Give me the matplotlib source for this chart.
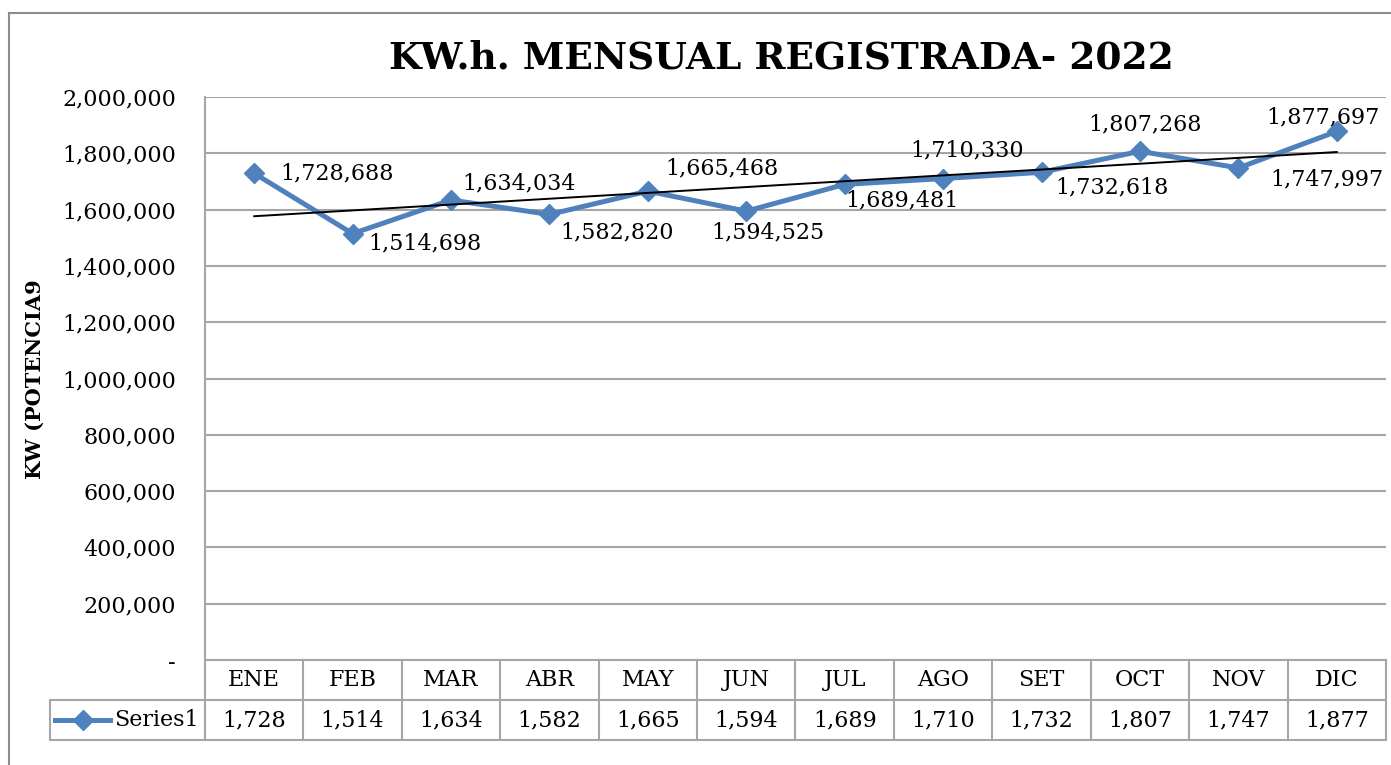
import matplotlib
matplotlib.use("Agg")
import matplotlib.pyplot as plt
from matplotlib.lines import Line2D
import matplotlib.transforms as mtransforms
import numpy as np

# monthly kWh registered, 2022
months = ["ENE", "FEB", "MAR", "ABR", "MAY", "JUN", "JUL", "AGO", "SET", "OCT", "NOV", "DIC"]
kwh = [1728688, 1514698, 1634034, 1582820, 1665468, 1594525,
       1689481, 1710330, 1732618, 1807268, 1747997, 1877697]
series_name = "Series1"
title = "KW.h. MENSUAL REGISTRADA- 2022"
ylabel = "KW (POTENCIA9"

# label offsets in pixels (dx, dy), left aligned, centered vertically
lbl_off = [(26, 0), (16, -10), (11, 17), (11, -18), (17, 23), (-35, -21),
           (1, -16), (-33, 28), (14, -15), (-52, 27), (32, -11), (-70, 14)]

plt.rcParams['font.family'] = ['DejaVu Serif']
W, H = 1391, 765
fig = plt.figure(figsize=(W/100, H/100), dpi=100)
ax = fig.add_axes([205/W, 1-660/H, 1181/W, 563/H])

blue = '#4f81bd'
grid_c = '#a6a6a6'
fs = 16

x = np.arange(len(months))
ax.plot(x, kwh, color=blue, lw=3.6, marker='D', ms=10, zorder=3)

# linear trendline
p = np.polyfit(x, kwh, 1)
ax.plot(x, np.polyval(p, x), color='black', lw=1.4, zorder=4)

for i, v in enumerate(kwh):
    ax.annotate(f"{v:,}", (i, v), xytext=lbl_off[i], textcoords='offset pixels',
                ha='left', va='center', fontsize=fs, zorder=5)

ax.set_xlim(-0.5, len(months)-0.5)
ax.set_ylim(0, 2000000)
ax.set_yticks(np.arange(0, 2000001, 200000))
ax.set_yticklabels(["-" if t == 0 else f"{t:,.0f}" for t in np.arange(0, 2000001, 200000)])
ax.set_xticks([])
ax.tick_params(axis='y', length=0, pad=21, labelsize=fs)
ax.grid(axis='y', color=grid_c, lw=1.5)
for s in ['top', 'right', 'bottom']:
    ax.spines[s].set_visible(False)
ax.spines['left'].set_color(grid_c)
ax.spines['left'].set_linewidth(1.5)

# data table below the plot
rh = 40/563
trans = mtransforms.blended_transform_factory(ax.transData, ax.transAxes)
leg_left = -155/1181
tl = dict(color=grid_c, lw=1.5, clip_on=False)
ax.plot([-0.5, len(months)-0.5], [0, 0], transform=trans, **tl)
ax.plot([leg_left, 1], [-rh, -rh], transform=ax.transAxes, **tl)
ax.plot([leg_left, 1], [-2*rh, -2*rh], transform=ax.transAxes, **tl)
ax.plot([leg_left, leg_left], [-rh, -2*rh], transform=ax.transAxes, **tl)
for k in range(len(months)+1):
    ax.plot([k-0.5, k-0.5], [0, -2*rh], transform=trans, **tl)
for i, m in enumerate(months):
    ax.text(i, -rh/2, m, transform=trans, ha='center', va='center', fontsize=fs)
    ax.text(i, -1.5*rh, f"{kwh[i]//1000:,}", transform=trans, ha='center', va='center', fontsize=fs)

# legend key inside table
lx0 = leg_left + 5/1181
lx1 = leg_left + 60/1181
ax.add_line(Line2D([lx0, lx1], [-1.5*rh, -1.5*rh], transform=ax.transAxes, color=blue,
                   lw=3.6, clip_on=False))
ax.add_line(Line2D([(lx0+lx1)/2], [-1.5*rh], transform=ax.transAxes, color=blue,
                   marker='D', ms=10, clip_on=False))
ax.text(leg_left + 64/1181, -1.5*rh, series_name, transform=ax.transAxes,
        ha='left', va='center', fontsize=fs)

fig.text(781/W, 1-58/H, title, ha='center', va='center', fontsize=27, fontweight='bold')
fig.text(35/W, 1-379/H, ylabel, rotation=90, ha='center', va='center', fontsize=15, fontweight='bold')

# chart frame
fig.add_artist(Line2D([9/W, 9/W], [0, 1-13/H], color='#8c8c8c', lw=1.5))
fig.add_artist(Line2D([9/W, 1], [1-13/H, 1-13/H], color='#8c8c8c', lw=1.5))

fig.savefig("out.png", dpi=100)
